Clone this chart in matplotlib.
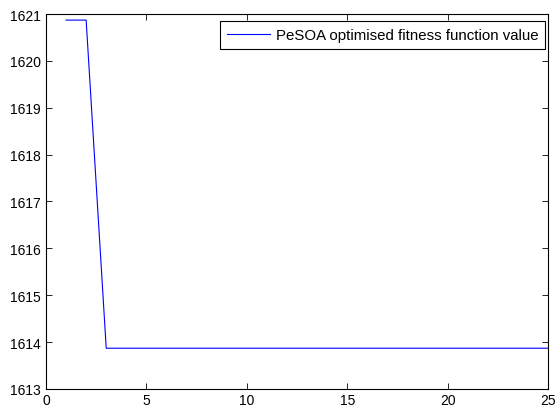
import numpy as np
import matplotlib
matplotlib.use("Agg")
import matplotlib.pyplot as plt

plt.rcParams['font.family'] = ['Liberation Sans', 'DejaVu Sans']

iterations = list(range(1, 26))
fitness = [1620.87, 1620.87] + [1613.87] * 23
x_ticks = [0, 5, 10, 15, 20, 25]
y_ticks = [1613, 1614, 1615, 1616, 1617, 1618, 1619, 1620, 1621]

fig = plt.figure(figsize=(5.56, 4.10), dpi=100)
ax = fig.add_axes([0.0827, 0.0488, 0.9029, 0.9146])

ax.plot(iterations, fitness, color='blue', linewidth=0.8,
        label='PeSOA optimised fitness function value')

ax.set_xlim(0, 25)
ax.set_ylim(1613, 1621)
ax.set_xticks(x_ticks)
ax.set_yticks(y_ticks)
ax.tick_params(direction='in', top=True, right=True, labelsize=10,
               length=4, width=0.6)
ax.tick_params(axis='y', pad=3.5)
ax.tick_params(axis='x', pad=3)
for s in ax.spines.values():
    s.set_linewidth(0.8)

leg = ax.legend(loc='upper right', bbox_to_anchor=(0.994, 0.981),
                borderaxespad=0, fontsize=10.8, fancybox=False,
                edgecolor='black', framealpha=1,
                handlelength=2.9, handletextpad=0.35, borderpad=0.45)
leg.get_frame().set_linewidth(0.8)

fig.savefig('out.png', dpi=100)
